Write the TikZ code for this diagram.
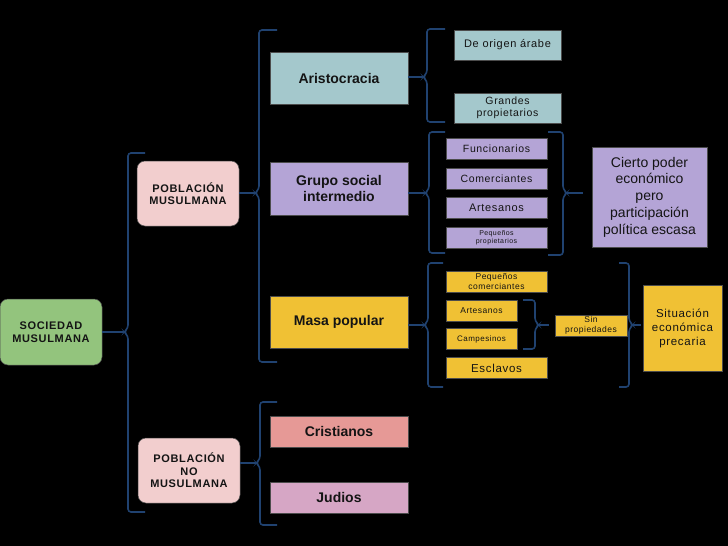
\documentclass[tikz,border=0pt]{standalone}
\usepackage{fontspec}
\setmainfont{Liberation Sans}
\newfontfamily\spfont[LetterSpace=6]{Liberation Sans}
\usetikzlibrary{calc}
\definecolor{bracec}{RGB}{32,66,112}
\definecolor{cgreen}{RGB}{147,196,125}
\definecolor{cpink}{RGB}{242,206,206}
\definecolor{cteal}{RGB}{164,200,204}
\definecolor{cpurple}{RGB}{180,164,214}
\definecolor{cyellow}{RGB}{240,193,52}
\definecolor{csalmon}{RGB}{230,153,150}
\definecolor{cmauve}{RGB}{214,166,197}
\definecolor{ctext}{RGB}{20,20,20}
\tikzset{
 box/.style={draw=black!70, line width=0.5pt, inner sep=1pt, align=center, text=ctext},
 rbox/.style={box, rounded corners=8pt},
 brace/.style={draw=bracec, line width=1.6pt, rounded corners=3pt},
 tipline/.style={draw=bracec, line width=1.6pt},
 fbig/.style={font=\fontsize{14}{16}\selectfont\bfseries},
 fcap/.style={font=\spfont\fontsize{11}{12.5}\selectfont\bfseries},
 fmed/.style={font=\spfont\fontsize{10.5}{12.5}\selectfont},
 fsmall/.style={font=\spfont\fontsize{8.5}{10}\selectfont},
 ftiny/.style={font=\spfont\fontsize{7}{8.5}\selectfont},
}
\newcommand\mybrace[6]{%
  \pgfmathsetmacro\mybrsign{#5>0 ? 1 : -1}
  \draw[brace] ({#1+#5},#2) -- (#1,#2) -- (#1,{#4-4}) -- ({#1-\mybrsign*4},#4) -- (#1,{#4+4}) -- (#1,#3) -- ({#1+#5},#3);
  \coordinate (#6) at ({#1-\mybrsign*4},#4);
}
\begin{document}
\begin{tikzpicture}[x=1pt,y=-1pt]
\fill[black] (0,0) rectangle (728,546);
\useasboundingbox (0,0) rectangle (728,546);

% main nodes
\node[rbox, fcap, fill=cgreen, minimum width=102pt, minimum height=66pt] (soc) at (51,332) {SOCIEDAD\\MUSULMANA};
\node[rbox, fcap, fill=cpink, minimum width=102pt, minimum height=65pt] (pm) at (188,193.5) {POBLACIÓN\\MUSULMANA};
\node[rbox, fcap, fill=cpink, minimum width=102pt, minimum height=65pt] (pnm) at (189,470.5) {POBLACIÓN\\NO\\MUSULMANA};

\node[box, fbig, fill=cteal, minimum width=138pt, minimum height=52pt] (aris) at (339,78) {Aristocracia};
\node[box, fbig, fill=cpurple, minimum width=138pt, minimum height=53pt] (grupo) at (339,188.5) {Grupo social\\intermedio};
\node[box, fbig, fill=cyellow, minimum width=138pt, minimum height=52pt] (masa) at (339,322) {Masa popular};
\node[box, fbig, fill=csalmon, minimum width=138pt, minimum height=31pt] (crist) at (339,431.5) {Cristianos};
\node[box, fbig, fill=cmauve, minimum width=138pt, minimum height=31pt] (jud) at (339,497.5) {Judios};

\node[box, font=\spfont\fontsize{11}{13}\selectfont, fill=cteal, minimum width=107pt, minimum height=30pt] (arabe) at (507.5,45) {De origen árabe};
\node[box, fmed, fill=cteal, minimum width=107pt, minimum height=30pt] (grandes) at (507.5,108) {Grandes\\propietarios};

\node[box, fmed, fill=cpurple, minimum width=101pt, minimum height=21pt] (func) at (496.5,149) {Funcionarios};
\node[box, fmed, fill=cpurple, minimum width=101pt, minimum height=21pt] (comer) at (496.5,178.5) {Comerciantes};
\node[box, font=\spfont\fontsize{11}{13}\selectfont, fill=cpurple, minimum width=101pt, minimum height=21pt] (artp) at (496.5,208) {Artesanos};
\node[box, ftiny, fill=cpurple, minimum width=101pt, minimum height=21pt] (pprop) at (496.5,237.5) {Pequeños\\propietarios};

\node[box, font=\fontsize{14}{16.8}\selectfont, fill=cpurple, minimum width=115pt, minimum height=100pt] (cierto) at (649.5,197) {Cierto poder\\económico\\pero\\participación\\política escasa};

\node[box, fsmall, fill=cyellow, minimum width=101pt, minimum height=21pt] (pcom) at (496.5,281.5) {Pequeños\\comerciantes};
\node[box, fsmall, fill=cyellow, minimum width=71pt, minimum height=21pt] (arty) at (481.5,310.5) {Artesanos};
\node[box, font=\spfont\fontsize{8}{9.5}\selectfont, fill=cyellow, minimum width=71pt, minimum height=21pt] (camp) at (481.5,339) {Campesinos};
\node[box, font=\spfont\fontsize{11.5}{13}\selectfont, fill=cyellow, minimum width=101pt, minimum height=21pt] (escl) at (496.5,368) {Esclavos};
\node[box, fsmall, fill=cyellow, minimum width=72pt, minimum height=21pt] (sinp) at (591,325.5) {Sin\\propiedades};
\node[box, font=\spfont\fontsize{11.5}{14}\selectfont, fill=cyellow, minimum width=79pt, minimum height=86pt] (sit) at (682.5,328) {Situación\\económica\\precaria};

% braces
\mybrace{128}{153}{512}{332}{17}{b1}
\mybrace{259}{30}{362}{193}{18}{b2}
\mybrace{427}{29}{122}{77}{18}{b3}
\mybrace{429}{132}{253}{193}{16}{b4}
\mybrace{563}{132}{255}{193}{-15}{b4r}
\mybrace{428}{263}{387}{325}{15}{b5}
\mybrace{535}{300}{349}{325}{-12}{b5s}
\mybrace{629}{263}{387}{325}{-10}{b5r}
\mybrace{260}{402}{525}{463}{17}{b6}

% tips
\draw[tipline] (soc.east |- b1) -- (b1);
\draw[tipline] (pm.east |- b2) -- (b2);
\draw[tipline] (aris.east |- b3) -- (b3);
\draw[tipline] (grupo.east |- b4) -- (b4);
\draw[tipline] (b4r) -- ($(cierto.west |- b4r)+(-9,0)$);
\draw[tipline] (masa.east |- b5) -- (b5);
\draw[tipline] (b5s) -- ($(sinp.west |- b5s)+(-6,0)$);
\draw[tipline] (b5r) -- ($(sit.west |- b5r)+(-2,0)$);
\draw[tipline] (pnm.east |- b6) -- (b6);
\end{tikzpicture}
\end{document}
